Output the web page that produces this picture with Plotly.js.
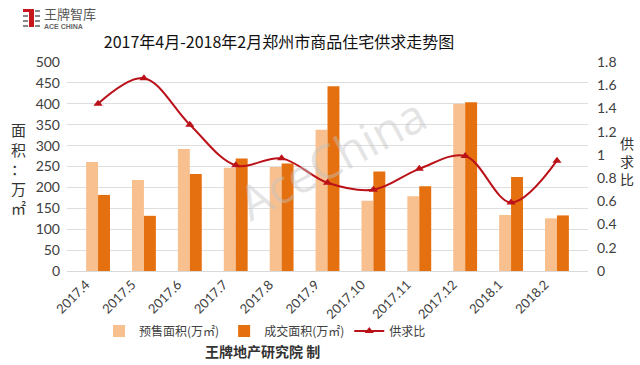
<!DOCTYPE html>
<html>
<head>
<meta charset="utf-8">
<script src="https://cdn.plot.ly/plotly-3.0.1.min.js"></script>
<style>
html,body{margin:0;padding:0;background:#fff;}
#chart{width:640px;height:365px;}
</style>
</head>
<body>
<div id="chart"></div>
<script>
const months = ["2017.4","2017.5","2017.6","2017.7","2017.8","2017.9","2017.10","2017.11","2017.12","2018.1","2018.2"];
const presaleArea = [261, 218, 292, 247, 249, 338, 168, 179, 400, 134, 126];
const dealArea = [182, 132, 232, 269, 257, 442, 238, 203, 404, 225, 133];
const supplyDemandRatio = [1.44, 1.66, 1.26, 0.91, 0.97, 0.76, 0.70, 0.88, 0.99, 0.59, 0.95];
const leftTicks = [0,50,100,150,200,250,300,350,400,450,500];
const rightTicks = [0,0.2,0.4,0.6,0.8,1,1.2,1.4,1.6,1.8];

const FONT = '"Noto Sans CJK SC", "Noto Sans", sans-serif';
const NUMFONT = '"Lato", "Noto Sans", sans-serif';

const traces = [
  {type:'bar', name:'预售面积(万㎡)', x:months, y:presaleArea, marker:{color:'#F8C08F'}, yaxis:'y'},
  {type:'bar', name:'成交面积(万㎡)', x:months, y:dealArea, marker:{color:'#E5700F'}, yaxis:'y'},
  {type:'scatter', mode:'lines+markers', name:'供求比', x:months, y:supplyDemandRatio, yaxis:'y2',
   line:{color:'#BB1119', width:2, shape:'spline', smoothing:1}, marker:{symbol:'triangle-up', size:8, color:'#BB1119'}}
];

function px(x){return (x-67)/521;}
function py(y){return (271-y)/209;}
function box(x0,y0,x1,y1,c){return {type:'rect', xref:'paper', yref:'paper', x0:px(x0), x1:px(x1), y0:py(y1), y1:py(y0), fillcolor:c, line:{width:0}, layer:'above'};}

const layout = {
  width:640, height:365,
  margin:{l:67, r:52, t:62, b:94},
  paper_bgcolor:'#fff', plot_bgcolor:'#fff',
  font:{family:FONT, color:'#404040'},
  showlegend:true,
  barmode:'group', bargap:0.48, bargroupgap:0,
  title:{text:'2017年4月-2018年2月郑州市商品住宅供求走势图', font:{family:FONT, size:16, color:'#111'},
         xref:'container', x:279/640, xanchor:'center', yref:'container', y:1-42/365, yanchor:'middle'},
  xaxis:{type:'category', tickangle:-45, tickfont:{family:NUMFONT, size:13, color:'#404040'},
         showline:true, linecolor:'#d9d9d9', linewidth:1, ticks:'', showgrid:false, fixedrange:true,
         ticklabelshift:-12},
  yaxis:{range:[0,500], tickvals:leftTicks, tickfont:{family:NUMFONT, size:14, color:'#404040'},
         showgrid:true, gridcolor:'#dedede', zeroline:false, ticks:'', fixedrange:true, ticklabelstandoff:6},
  yaxis2:{range:[0,1.8], tickvals:rightTicks, overlaying:'y', side:'right', showgrid:false, zeroline:false,
          tickfont:{family:NUMFONT, size:14, color:'#404040'}, ticks:'', fixedrange:true, ticklabelstandoff:8},
  legend:{orientation:'h', xref:'paper', yref:'paper', x:px(99), xanchor:'left', y:py(331), yanchor:'middle',
          font:{family:FONT, size:12, color:'#404040'}, traceorder:'normal', itemwidth:30, bgcolor:'rgba(0,0,0,0)'},
  shapes:[
    box(23,9,33,12,'#C8161D'), box(29,9,34,27,'#C8161D'),
    box(23,15,28,17,'#888'), box(23,20,28,22,'#888'), box(23,25,28,27,'#888'),
    box(35,10,40,12,'#888'), box(35,15,40,17,'#888'), box(35,20,40,22,'#888'), box(35,25,40,27,'#888')
  ],
  annotations:[
    {text:'AceChina', xref:'paper', yref:'paper', x:px(332), y:py(158), showarrow:false,
     textangle:-28, font:{family:'"Open Sans", sans-serif', size:47, color:'rgba(195,195,195,0.45)'}},
    {text:'面<br>积<br>：<br>万<br>㎡', xref:'paper', yref:'paper', x:px(18), y:py(168), showarrow:false,
     xanchor:'center', yanchor:'middle', font:{family:FONT, size:15, color:'#333'}},
    {text:'供<br>求<br>比', xref:'paper', yref:'paper', x:px(627), y:py(161), showarrow:false,
     xanchor:'center', yanchor:'middle', font:{family:FONT, size:14, color:'#333'}},
    {text:'<b>王牌地产研究院 制</b>', xref:'paper', yref:'paper', x:px(262), y:py(351), showarrow:false,
     xanchor:'center', yanchor:'middle', font:{family:FONT, size:14, color:'#333'}},
    {text:'王牌智库', xref:'paper', yref:'paper', x:px(42), y:py(13), showarrow:false,
     xanchor:'left', yanchor:'middle', font:{family:FONT, size:13, color:'#555'}},
    {text:'<b>ACE CHINA</b>', xref:'paper', yref:'paper', x:px(42), y:py(27), showarrow:false,
     xanchor:'left', yanchor:'middle', font:{family:'"Liberation Sans", sans-serif', size:7, color:'#666'}}
  ]
};

Plotly.newPlot('chart', traces, layout, {displayModeBar:false, staticPlot:true});
</script>
</body>
</html>
